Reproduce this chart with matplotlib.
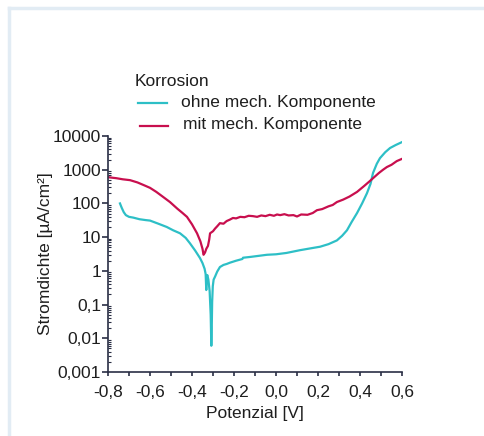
import numpy as np
import matplotlib.pyplot as plt
from matplotlib.ticker import FixedLocator, FuncFormatter, LogLocator, NullFormatter
from matplotlib.lines import Line2D

plt.rcParams['font.family'] = ['Liberation Sans', 'DejaVu Sans']

# Potential [V] and current density [uA/cm2]
pot_ohne = [-0.743, -0.735, -0.725, -0.715, -0.70, -0.68, -0.65, -0.62, -0.60, -0.56, -0.52,
            -0.49, -0.457, -0.43, -0.41, -0.385, -0.362, -0.35, -0.34, -0.335, -0.332, -0.330,
            -0.327, -0.322, -0.316, -0.311, -0.308, -0.306, -0.304, -0.301, -0.297, -0.29,
            -0.28, -0.267, -0.25, -0.235, -0.219, -0.19, -0.16, -0.157, -0.12, -0.08, -0.043,
            0.0, 0.05, 0.114, 0.16, 0.21, 0.25, 0.29, 0.315, 0.338, 0.36, 0.386, 0.41,
            0.433, 0.45, 0.462, 0.48, 0.495, 0.52, 0.543, 0.57, 0.60]
i_ohne = [100, 75, 55, 45, 40, 38, 34, 32, 31, 25, 20,
          16, 13, 9.5, 6.6, 4.0, 2.4, 1.7, 1.15, 0.8, 0.27, 0.65,
          0.75, 0.55, 0.25, 0.05, 0.006, 0.02, 0.12, 0.35, 0.55, 0.68,
          0.95, 1.3, 1.5, 1.6, 1.75, 2.0, 2.25, 2.45, 2.6, 2.8, 3.0,
          3.1, 3.4, 4.1, 4.6, 5.2, 6.2, 8.0, 11, 16, 28, 52, 100,
          200, 380, 800, 1500, 2200, 3300, 4400, 5400, 6600]

pot_mit = [-0.80, -0.76, -0.73, -0.695, -0.66, -0.63, -0.60, -0.57, -0.54, -0.505, -0.47,
           -0.445, -0.424, -0.40, -0.376, -0.36, -0.35, -0.345, -0.338, -0.332, -0.324,
           -0.318, -0.314, -0.30, -0.29, -0.28, -0.267, -0.25, -0.235, -0.22, -0.205, -0.19,
           -0.17, -0.15, -0.13, -0.11, -0.09, -0.07, -0.05, -0.03, -0.01, 0.005, 0.02, 0.04,
           0.06, 0.083, 0.10, 0.12, 0.15, 0.175, 0.195, 0.22, 0.25, 0.27, 0.29, 0.32,
           0.35, 0.386, 0.42, 0.445, 0.462, 0.49, 0.51, 0.528, 0.55, 0.575, 0.60]
i_mit = [600, 560, 520, 490, 420, 350, 290, 220, 160, 110, 70,
         52, 40, 24, 13, 7.5, 4.5, 3.0, 3.5, 4.5, 5.5,
         8.5, 13, 15, 18, 21, 26, 25, 30, 33, 37, 36,
         40, 39, 43, 42, 40, 44, 42, 46, 43, 47, 45, 48,
         44, 45, 41, 47, 46, 52, 63, 68, 82, 90, 110, 130,
         160, 220, 330, 450, 560, 800, 1000, 1200, 1400, 1800, 2100]

ticks_y = [1e-3, 1e-2, 1e-1, 1, 10, 100, 1000, 10000]
labels_y = ['0,001', '0,01', '0,1', '1', '10', '100', '1000', '10000']
ticks_x = [-0.8, -0.6, -0.4, -0.2, 0.0, 0.2, 0.4, 0.6]

c_ohne = '#2dbfc6'
c_mit = '#c80f4e'
txt = '#1e1e1e'
fs = 12.5

fig = plt.figure(figsize=(4.85, 4.36), dpi=100)
# light frame in the top left corner
fig.add_artist(Line2D([9.5 / 485, 9.5 / 485], [0, 1 - 8 / 436], color='#e2ecf4', lw=2.5))
fig.add_artist(Line2D([9.5 / 485, 1], [1 - 8.5 / 436, 1 - 8.5 / 436], color='#e2ecf4', lw=2.5))

ax = fig.add_axes([108 / 485, 1 - 372 / 436, 294 / 485, 236 / 436])
ax.plot(pot_ohne, i_ohne, color=c_ohne, lw=1.6)
ax.plot(pot_mit, i_mit, color=c_mit, lw=1.6)

ax.set_yscale('log')
ax.set_ylim(1e-3, 1e4)
ax.set_xlim(-0.8, 0.6)
ax.yaxis.set_major_locator(FixedLocator(ticks_y))
ax.yaxis.set_major_formatter(FuncFormatter(lambda v, p: labels_y[ticks_y.index(v)] if v in ticks_y else ''))
ax.yaxis.set_minor_locator(LogLocator(base=10, subs=np.arange(2, 10), numticks=20))
ax.yaxis.set_minor_formatter(NullFormatter())
ax.xaxis.set_major_locator(FixedLocator(ticks_x))
ax.xaxis.set_minor_locator(FixedLocator([-0.7, -0.5, -0.3, -0.1, 0.1, 0.3, 0.5]))
ax.xaxis.set_major_formatter(FuncFormatter(lambda v, p: f'{v:.1f}'.replace('.', ',').replace('-0,0', '0,0')))

for s in ['top', 'right']:
    ax.spines[s].set_visible(False)
for s in ['left', 'bottom']:
    ax.spines[s].set_color('#2a2f45')
    ax.spines[s].set_linewidth(1.2)

ax.tick_params(axis='y', which='major', direction='out', length=4, width=1.2, colors='#2a2f45',
               labelcolor=txt, labelsize=fs, pad=1)
ax.tick_params(axis='y', which='minor', direction='in', length=2.5, width=0.8, colors='#2a2f45')
ax.tick_params(axis='x', which='both', direction='out', length=3, width=1.2, colors='#2a2f45',
               labelcolor=txt, labelsize=fs, pad=6)

ax.set_xlabel('Potenzial [V]', fontsize=fs, color=txt, labelpad=5)
ax.set_ylabel('Stromdichte [µA/cm²]', fontsize=fs, color=txt, labelpad=0)

# legend
fig.text(135 / 485, 1 - 82 / 436, 'Korrosion', fontsize=fs, color=txt, va='center', ha='left')
fig.add_artist(Line2D([138 / 485, 167 / 485], [1 - 103 / 436] * 2, color=c_ohne, lw=1.6))
fig.text(181 / 485, 1 - 102 / 436, 'ohne mech. Komponente', fontsize=fs, color=txt, va='center', ha='left')
fig.add_artist(Line2D([140 / 485, 168 / 485], [1 - 126 / 436] * 2, color=c_mit, lw=1.6))
fig.text(183 / 485, 1 - 125 / 436, 'mit mech. Komponente', fontsize=fs, color=txt, va='center', ha='left')

fig.savefig('out.png', dpi=100)
